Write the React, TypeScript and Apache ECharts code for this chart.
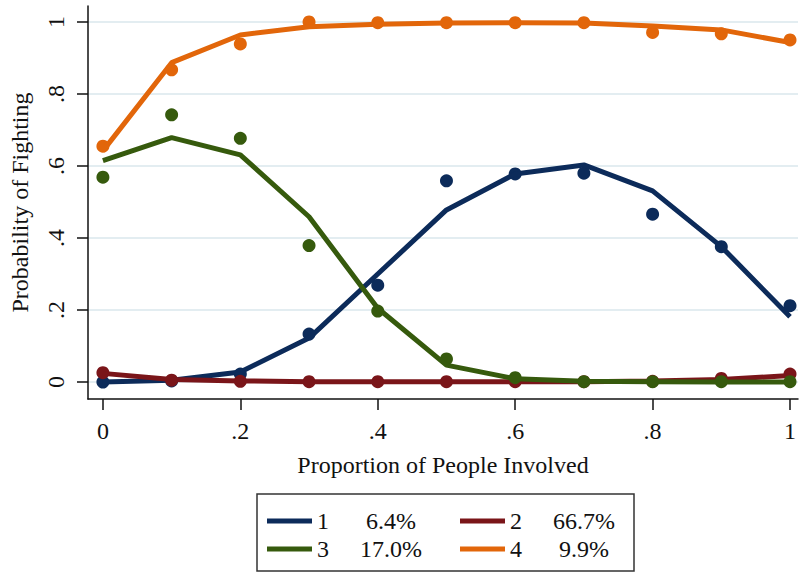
import React, { useEffect, useRef } from "react";
import * as echarts from "echarts";

// Proportion of people involved (x positions)
const proportions = [0, 0.1, 0.2, 0.3, 0.4, 0.5, 0.6, 0.7, 0.8, 0.9, 1];

// Observed probabilities (dots) and fitted probabilities (lines) per class
const observed1 = [0.0, 0.003, 0.022, 0.133, 0.269, 0.559, 0.578, 0.58, 0.466, 0.376, 0.212];
const fitted1 = [0.0, 0.005, 0.028, 0.122, 0.3, 0.478, 0.578, 0.603, 0.531, 0.376, 0.181];

const observed2 = [0.026, 0.005, 0.002, 0.001, 0.001, 0.001, 0.001, 0.001, 0.002, 0.01, 0.022];
const fitted2 = [0.024, 0.007, 0.003, 0.001, 0.001, 0.001, 0.001, 0.001, 0.003, 0.007, 0.018];

const observed3 = [0.569, 0.742, 0.677, 0.379, 0.197, 0.064, 0.012, 0.001, 0.001, 0.001, 0.001];
const fitted3 = [0.615, 0.679, 0.631, 0.459, 0.205, 0.047, 0.009, 0.002, 0.001, 0.0, 0.0];

const observed4 = [0.655, 0.867, 0.939, 1.0, 0.998, 0.998, 0.998, 0.998, 0.971, 0.967, 0.95];
const fitted4 = [0.642, 0.887, 0.964, 0.987, 0.994, 0.997, 0.998, 0.997, 0.989, 0.978, 0.943];

// Class labels and their shares
const classNames = ["1", "2", "3", "4"];
const classShares = ["6.4%", "66.7%", "17.0%", "9.9%"];
const classColors = ["#0c2b5a", "#7a1519", "#365a0d", "#e2660a"];

// Axis tick values and labels
const xTicks = [0, 0.2, 0.4, 0.6, 0.8, 1];
const xTickLabels = ["0", ".2", ".4", ".6", ".8", "1"];
const yTicks = [0, 0.2, 0.4, 0.6, 0.8, 1];
const yTickLabels = ["0", ".2", ".4", ".6", ".8", "1"];

const FONT = "'Liberation Serif', 'Times New Roman', serif";
const FONT_SIZE = 24;

export default function App() {
  const ref = useRef<HTMLDivElement>(null);

  useEffect(() => {
    if (!ref.current) return;
    const chart = echarts.init(ref.current, null, { renderer: "svg" });

    const observedSets = [observed1, observed2, observed3, observed4];
    const fittedSets = [fitted1, fitted2, fitted3, fitted4];

    const series: any[] = [];
    classNames.forEach((name, i) => {
      series.push({
        name: "obs-" + name,
        type: "scatter",
        data: proportions.map((x, j) => [x, observedSets[i][j]]),
        symbol: "circle",
        symbolSize: 13,
        itemStyle: { color: classColors[i], opacity: 1 },
        z: 2 + i * 2,
      });
      series.push({
        name,
        type: "line",
        data: proportions.map((x, j) => [x, fittedSets[i][j]]),
        showSymbol: false,
        symbol: "none",
        lineStyle: { color: classColors[i], width: 5 },
        itemStyle: { color: classColors[i] },
        z: 3 + i * 2,
      });
    });

    const legendRich = {
      n: { fontFamily: FONT, fontSize: FONT_SIZE, color: "#111", width: 30, lineHeight: 24 },
      p: { fontFamily: FONT, fontSize: FONT_SIZE, color: "#111", width: 88, align: "center", lineHeight: 24 },
    };
    const shareOf = (name: string) => classShares[classNames.indexOf(name)];
    const legendBase = {
      orient: "horizontal",
      left: 267,
      padding: 0,
      itemGap: 25,
      itemWidth: 45,
      itemHeight: 5,
      icon: "rect",
      selectedMode: false,
      formatter: (name: string) => `{n|${name}}{p|${shareOf(name)}}`,
      textStyle: { fontFamily: FONT, fontSize: FONT_SIZE, rich: legendRich },
    };

    const textBase = { fontFamily: FONT, fontSize: FONT_SIZE, color: "#111" };

    chart.setOption({
      animation: false,
      backgroundColor: "#ffffff",
      textStyle: { fontFamily: FONT },
      grid: { left: 86, right: 0, top: 6, bottom: 174, containLabel: false },
      xAxis: {
        type: "value",
        min: -0.0217,
        max: 1.0116,
        name: "Proportion of People Involved",
        nameLocation: "middle",
        nameGap: 54,
        nameTextStyle: textBase,
        axisLine: { show: true, onZero: false, lineStyle: { color: "#111", width: 1.5 } },
        axisTick: { show: true, customValues: xTicks, length: 11, lineStyle: { color: "#111", width: 1.5 } },
        axisLabel: {
          ...textBase,
          customValues: xTicks,
          margin: 20,
          formatter: (v: number) => xTickLabels[xTicks.findIndex((t) => Math.abs(t - v) < 1e-6)] ?? "",
        },
        splitLine: { show: false },
      },
      yAxis: {
        type: "value",
        min: -0.0472,
        max: 1.0444,
        name: "Probability of Fighting",
        nameLocation: "middle",
        nameRotate: 90,
        nameGap: 56,
        nameTextStyle: textBase,
        axisLine: { show: true, onZero: false, lineStyle: { color: "#111", width: 1.5 } },
        axisTick: { show: true, customValues: yTicks, length: 11, lineStyle: { color: "#111", width: 1.5 } },
        axisLabel: {
          ...textBase,
          customValues: yTicks,
          rotate: 90,
          margin: 20,
          formatter: (v: number) => yTickLabels[yTicks.findIndex((t) => Math.abs(t - v) < 1e-6)] ?? "",
        },
        splitLine: { show: true, lineStyle: { color: "#e3edf1", width: 2 } },
      },
      legend: [
        { ...legendBase, top: 509, data: ["1", "2"] },
        { ...legendBase, top: 537, data: ["3", "4"] },
      ],
      graphic: [
        {
          type: "rect",
          shape: { x: 257, y: 494, width: 377, height: 77 },
          style: { fill: "none", stroke: "#333", lineWidth: 1.5 },
          z: 0,
        },
      ],
      series,
    });

    return () => chart.dispose();
  }, []);

  return (
    <div
      ref={ref}
      style={{ position: "absolute", left: 0, top: 0, width: 799, height: 573 }}
    />
  );
}
